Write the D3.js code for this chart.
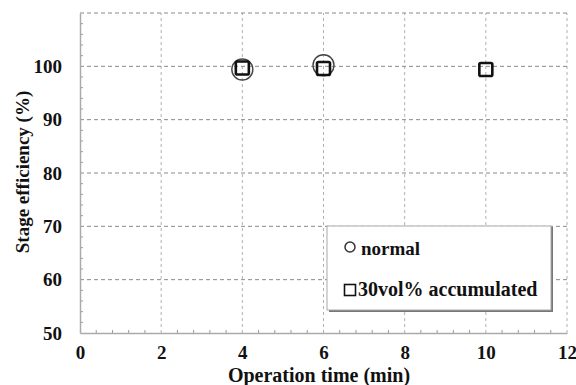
<!DOCTYPE html>
<html>
<head>
<meta charset="utf-8">
<script src="https://cdn.jsdelivr.net/npm/d3@7"></script>
<style>
  body { margin: 0; background: #fff; }
  svg text { font-family: "Liberation Serif", "Times New Roman", serif; font-weight: bold; fill: #111; }
</style>
</head>
<body>
<svg id="chart" width="576" height="385"></svg>
<script>
// series
var normalTime = [4, 6];
var normalEff = [99.4, 100.2];
var accumTime = [4, 6, 10];
var accumEff = [99.7, 99.6, 99.4];

var xTicks = [0, 2, 4, 6, 8, 10, 12];
var yTicks = [50, 60, 70, 80, 90, 100];
var legendLabels = ["normal", "30vol% accumulated"];

var margin = { left: 80, right: 9, top: 13, bottom: 52 };
var width = 576, height = 385;

var svg = d3.select("#chart");

var x = d3.scaleLinear().domain([0, 12]).range([margin.left, width - margin.right]);
var y = d3.scaleLinear().domain([50, 110]).range([height - margin.bottom, margin.top]);

// grid: vertical lines (lighter) then horizontal (darker)
svg.append("g").selectAll("line").data(xTicks.slice(1)).enter().append("line")
  .attr("x1", function(d) { return x(d); }).attr("x2", function(d) { return x(d); })
  .attr("y1", y(50)).attr("y2", y(110))
  .attr("stroke", "#b0b0b0").attr("stroke-width", 1).attr("stroke-dasharray", "3,3");

svg.append("g").selectAll("line").data(yTicks.slice(1).concat([110])).enter().append("line")
  .attr("x1", x(0)).attr("x2", x(12))
  .attr("y1", function(d) { return y(d); }).attr("y2", function(d) { return y(d); })
  .attr("stroke", "#8a8a8a").attr("stroke-width", 1).attr("stroke-dasharray", "4,3");

// minor ticks pointing inward
var xMinor = d3.range(0, 12.001, 0.4).filter(function(d) { return Math.abs(d / 2 - Math.round(d / 2)) > 1e-6; });
svg.append("g").selectAll("line").data(xMinor).enter().append("line")
  .attr("x1", function(d) { return x(d); }).attr("x2", function(d) { return x(d); })
  .attr("y1", y(50)).attr("y2", y(50) - 3)
  .attr("stroke", "#999");
var yMinor = d3.range(50, 110.001, 2).filter(function(d) { return d % 10 !== 0; });
svg.append("g").selectAll("line").data(yMinor).enter().append("line")
  .attr("x1", x(0)).attr("x2", x(0) + 3)
  .attr("y1", function(d) { return y(d); }).attr("y2", function(d) { return y(d); })
  .attr("stroke", "#999");

// axes
var xAxis = svg.append("g").attr("transform", "translate(0," + y(50) + ")")
  .call(d3.axisBottom(x).tickValues(xTicks).tickSize(0).tickPadding(13));
var yAxis = svg.append("g").attr("transform", "translate(" + x(0) + ",0)")
  .call(d3.axisLeft(y).tickValues(yTicks).tickSize(0).tickPadding(18));
[xAxis, yAxis].forEach(function(a) {
  a.attr("font-family", null).attr("font-size", null);
  a.select(".domain").attr("stroke", "#aaa").attr("stroke-width", 1.5);
  a.selectAll("text").style("font-size", "19px").attr("fill", "#111");
});

// axis titles
svg.append("text").attr("x", 319).attr("y", 382).attr("text-anchor", "middle")
  .style("font-size", "20px").text("Operation time (min)");
svg.append("text").attr("transform", "translate(29,172) rotate(-90)").attr("text-anchor", "middle")
  .style("font-size", "19px").text("Stage efficiency (%)");

// data marks
var normalPts = normalTime.map(function(t, i) { return [t, normalEff[i]]; });
var accumPts = accumTime.map(function(t, i) { return [t, accumEff[i]]; });

svg.append("g").selectAll("circle").data(normalPts).enter().append("circle")
  .attr("cx", function(d) { return x(d[0]); })
  .attr("cy", function(d) { return y(d[1]); })
  .attr("r", 10.5)
  .attr("fill", "none").attr("stroke", "#444").attr("stroke-width", 1.4);

var sq = 13;
svg.append("g").selectAll("rect").data(accumPts).enter().append("rect")
  .attr("x", function(d) { return x(d[0]) - sq / 2; })
  .attr("y", function(d) { return y(d[1]) - sq / 2; })
  .attr("width", sq).attr("height", sq).attr("rx", 1.5)
  .attr("fill", "none").attr("stroke", "#111").attr("stroke-width", 2.6);

// legend
var lg = svg.append("g").attr("transform", "translate(328,226)");
lg.append("rect").attr("x", 1).attr("y", 1).attr("width", 224).attr("height", 85).attr("fill", "#777");
lg.append("rect").attr("x", -1).attr("y", 0).attr("width", 224).attr("height", 84)
  .attr("fill", "#fff").attr("stroke", "#aaa").attr("stroke-width", 1);
lg.append("circle").attr("cx", 22).attr("cy", 21).attr("r", 5)
  .attr("fill", "none").attr("stroke", "#333").attr("stroke-width", 1.5);
lg.append("rect").attr("x", 16.5).attr("y", 58.5).attr("width", 11).attr("height", 11)
  .attr("fill", "none").attr("stroke", "#111").attr("stroke-width", 1.6);
lg.append("text").attr("x", 33).attr("y", 29).style("font-size", "19px").text(legendLabels[0]);
lg.append("text").attr("x", 30).attr("y", 70).style("font-size", "20px").text(legendLabels[1]);
</script>
</body>
</html>
